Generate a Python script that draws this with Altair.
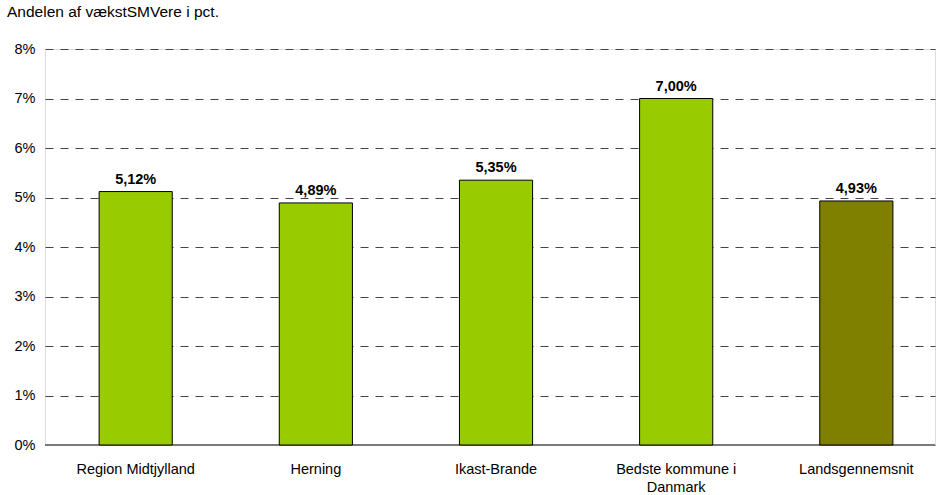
import altair as alt
import pandas as pd

categories = ["Region Midtjylland", "Herning", "Ikast-Brande", "Bedste kommune i Danmark", "Landsgennemsnit"]
values = [5.12, 4.89, 5.35, 7.00, 4.93]
colors = ["#99CC00", "#99CC00", "#99CC00", "#99CC00", "#808000"]
y_ticks = [0, 1, 2, 3, 4, 5, 6, 7, 8]

df = pd.DataFrame({"cat": categories, "val": values, "color": colors})
df["label"] = [f"{v:.2f}".replace(".", ",") + "%" for v in values]

FONT = "Liberation Sans"
FS = 14.5

x_enc = alt.X(
    "cat:N", sort=categories, title=None,
    scale=alt.Scale(paddingInner=0.594, paddingOuter=0.267, align=0.5625),
    axis=alt.Axis(
        labelAngle=0, labelFontSize=FS, labelColor="#000000", labelFont=FONT,
        domain=False, ticks=False, labelPadding=17, labelLineHeight=18,
        labelExpr="datum.label == 'Bedste kommune i Danmark' ? ['Bedste kommune i', 'Danmark'] : datum.label",
    ),
)
y_enc = alt.Y(
    "val:Q", title=None,
    scale=alt.Scale(domain=[0, 8], nice=False),
    axis=alt.Axis(
        values=y_ticks, labelExpr="datum.value + '%'", labelFontSize=FS,
        labelColor="#000000", labelFont=FONT, domain=False, ticks=False,
        labelPadding=10, grid=True, gridDash=[8, 7], gridColor="#444444",
        gridWidth=1,
    ),
)

bars = alt.Chart(df).mark_bar(stroke="#000000", strokeWidth=1).encode(
    x=x_enc, y=y_enc, color=alt.Color("color:N", scale=None)
)

texts = alt.Chart(df).mark_text(
    baseline="bottom", dy=-5, fontSize=FS, fontWeight="bold", font=FONT, color="#000000"
).encode(x=alt.X("cat:N", sort=categories), y="val:Q", text="label:N")

base_df = pd.DataFrame({"y": [0]})
baseline = alt.Chart(base_df).mark_rule(color="#7a7a7a", strokeWidth=2).encode(y="y:Q")

chart = alt.layer(baseline, bars, texts).properties(
    width=890, height=396,
    autosize=alt.AutoSizeParams(type="none"),
    padding={"left": 45, "top": 49, "right": 1, "bottom": 50},
    title=alt.TitleParams(
        "Andelen af vækstSMVere i pct.", anchor="start", frame="group",
        dx=-38, offset=21, fontSize=15.5, fontWeight="normal", font=FONT, color="#000000",
    ),
).configure_view(stroke=None).configure(background="white")

chart.save("out.html", embed_options={"renderer": "svg", "actions": False})
